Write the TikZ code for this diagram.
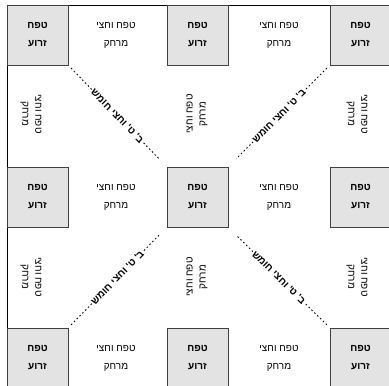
\documentclass[tikz,border=0pt]{standalone}
\usepackage{fontspec}
\setmainfont{Liberation Sans}
\newfontfamily\hebfont[Script=Hebrew]{Liberation Sans}
\TeXXeTstate=1
\newcommand\heb[1]{\beginR #1\endR}
\tikzset{
 gbox/.style={draw=black!75, line width=0.7pt, fill=black!11, minimum width=61pt, minimum height=60pt, inner sep=0pt, align=center, font=\hebfont\bfseries\fontsize{10}{18}\selectfont},
 gaptext/.style={align=center, inner sep=0pt, font=\hebfont\fontsize{10}{18}\selectfont},
 vtext/.style={align=center, inner sep=0pt, font=\hebfont\fontsize{10}{13}\selectfont},
 dline/.style={line width=0.9pt, dash pattern=on 1.5pt off 2.5pt, shorten <=4pt, shorten >=11pt},
 dlabel/.style={sloped, fill=white, inner sep=1pt, font=\hebfont\bfseries\fontsize{10}{12}\selectfont},
}
\begin{document}
\begin{tikzpicture}[x=1pt,y=-1pt]
\clip (0,0) rectangle (389,386);
\fill[white] (0,0) rectangle (389,386);
\draw[line width=0.8pt] (7,5) rectangle (420,420);
% boxes
\foreach \r/\y in {1/35,2/197,3/358}{
  \foreach \c/\x in {1/37.5,2/197.5,3/360.5}{
    \node[gbox] (b\r\c) at (\x,\y) {\heb{טפח}\\\heb{זרוע}};
  }
}
% horizontal gap texts
\foreach \r/\y in {1/35,2/197,3/358}{
  \node[gaptext] (h\r1) at (116,\y) {\heb{טפח וחצי}\\\heb{מרחק}};
  \node[gaptext] (h\r2) at (279,\y) {\heb{טפח וחצי}\\\heb{מרחק}};
}
% vertical gap texts
\foreach \k/\y in {1/114,2/277}{
  \node[vtext, rotate=-90] (vl\k) at (31,\y) {\heb{טפח וחצי}\\\heb{מרחק}};
  \node[vtext, rotate=90] (vm\k) at (197,\y) {\heb{טפח וחצי}\\\heb{מרחק}};
  \node[vtext, rotate=-90] (vr\k) at (357,\y) {\heb{טפח וחצי}\\\heb{מרחק}};
}
% diagonals
\draw[dline] (b11.south east) -- node[dlabel] (d1) {\heb{ב' ט' וחצי חומש}} (b22.north west);
\draw[dline] (b13.south west) -- node[dlabel] (d2) {\heb{ב' ט' וחצי חומש}} (b22.north east);
\draw[dline] (b31.north east) -- node[dlabel] (d3) {\heb{ב' ט' וחצי חומש}} (b22.south west);
\draw[dline] (b33.north west) -- node[dlabel] (d4) {\heb{ב' ט' וחצי חומש}} (b22.south east);
\end{tikzpicture}
\end{document}
